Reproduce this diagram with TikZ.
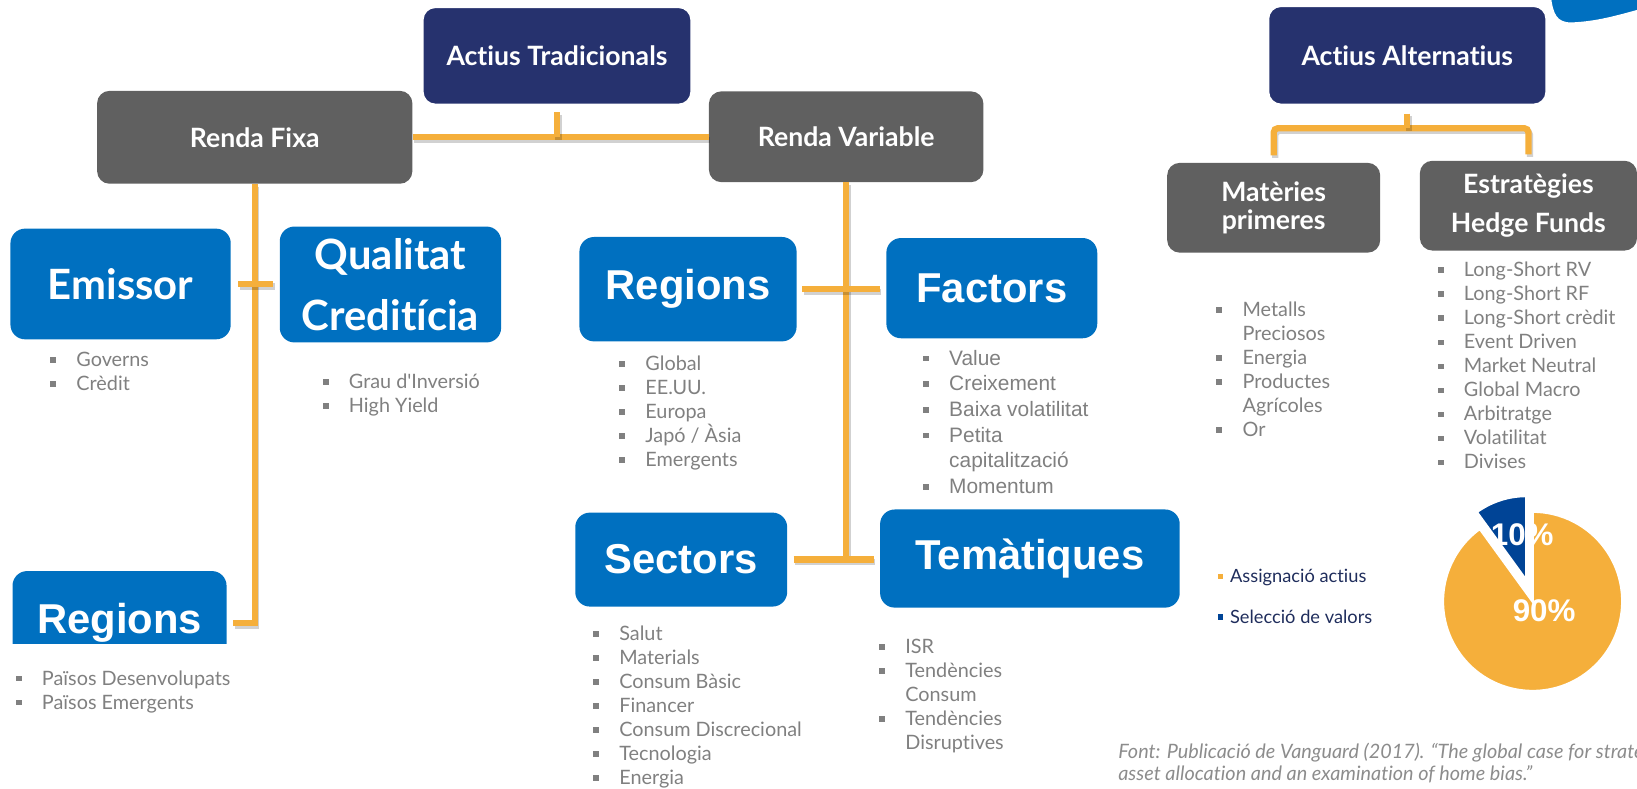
\documentclass[tikz,border=0pt]{standalone}
\usepackage{fontspec}
\setmainfont{Lato}[Ligatures={TeX,NoCommon}]
\newfontfamily\arialfont{Liberation Sans}
\definecolor{navyfill}{RGB}{38,50,110}
\definecolor{grayfill}{RGB}{96,96,96}
\definecolor{bluefill}{RGB}{0,112,192}
\definecolor{linkorange}{RGB}{245,175,59}
\definecolor{pienavy}{RGB}{0,68,150}
\definecolor{listgray}{RGB}{128,128,128}
\definecolor{legendnavy}{RGB}{31,45,92}
\definecolor{footgray}{RGB}{140,140,140}
\begin{document}
\begin{tikzpicture}[x=1pt,y=-1pt,
	mybox/.style={rounded corners=12pt, inner sep=0pt, text=white, align=center},
	navybox/.style={mybox, fill=navyfill, draw=white, line width=1.5pt},
	graybox/.style={mybox, fill=grayfill},
	bluebox/.style={mybox, fill=bluefill, rounded corners=14pt},
	conn/.style={draw=linkorange, line width=6pt, preaction={draw=black, opacity=0.18, line width=6pt, transform canvas={shift={(1.5pt,-2.5pt)}}}},
	bullets/.style={anchor=north west, inner sep=0pt, align=left, text=listgray}]
		\newcommand{\myfonthead}{\bfseries\fontsize{25.5}{27}\selectfont}
		\newcommand{\myfonthedge}{\bfseries\fontsize{25.5}{38}\selectfont}
		\newcommand{\myfontbig}{\bfseries\fontsize{40}{58}\selectfont}
		\newcommand{\myfontarial}{\arialfont\bfseries\fontsize{40}{46}\selectfont}
		\newcommand{\myfontlist}{\fontsize{19}{23}\selectfont}
		\newcommand{\myfontlistarial}{\arialfont\fontsize{20}{24.6}\selectfont}
		\newcommand{\myfontlegend}{\fontsize{17.5}{21}\selectfont}
		\newcommand{\myfontfoot}{\itshape\fontsize{19}{21}\selectfont}
		\newcommand{\myfontpie}{\arialfont\bfseries\fontsize{30}{34}\selectfont}
		\newcommand{\mybullet}{\makebox[25pt][l]{\rule[3.5pt]{5.5pt}{5.5pt}}}
		\newcommand{\myindent}{\hspace*{25pt}}
		\useasboundingbox (0,0) rectangle (1568,755);
		%Blue corner at the top right
		\fill[bluefill, draw=white, line width=3pt] (1484,-4) .. controls (1486,14) and (1490,23) .. (1505,23) .. controls (1530,22) and (1550,16) .. (1572,10) -- (1572,-4) -- cycle;
		%Top level boxes
		\node[navybox, minimum width=257pt, minimum height=93pt, font=\myfonthead] (trad) at (533.5,53.5) {Actius Tradicionals};
		\node[navybox, minimum width=266pt, minimum height=94pt, font=\myfonthead] (alt) at (1348,53) {Actius Alternatius};
		\node[graybox, minimum width=302pt, minimum height=89pt, font=\myfonthead] (rf) at (244,131.5) {Renda Fixa};
		\node[graybox, minimum width=263pt, minimum height=87pt, font=\myfonthead] (rv) at (810.5,131) {Renda Variable};
		\node[graybox, minimum width=204pt, minimum height=86pt, font=\myfonthead] (mat) at (1220,199) {Matèries\\primeres};
		\node[graybox, minimum width=208pt, minimum height=86pt, font=\myfonthedge] (hedge) at (1464,197) {Estratègies\\Hedge Funds};
		%Renda fixa
		\node[bluebox, minimum width=211pt, minimum height=106pt, font=\myfontbig] (emi) at (115.5,272) {Emissor};
		\node[bluebox, minimum width=212pt, minimum height=111pt, font=\myfontbig] (qual) at (374,272.5) {Qualitat\\Creditícia};
		\begin{scope}
			\clip (0,0) rectangle (300,616);
			\node[bluebox, minimum width=205pt, minimum height=100pt, font=\myfontarial] (regfix) at (114.5,597) {Regions};
		\end{scope}
		\node[bullets, font=\myfontlist] (emilist) at (48,337) {\mybullet Governs\\\mybullet Crèdit};
		\node[bullets, font=\myfontlist] (quallist) at (309,358) {\mybullet Grau d\textquotesingle Inversió\\\mybullet High Yield};
		\node[bullets, font=\myfontlist] (regfixlist) at (15,642) {\mybullet Països Desenvolupats\\\mybullet Països Emergents};
		%Renda variable
		\node[bluebox, minimum width=208pt, minimum height=100pt, font=\myfontarial] (regvar) at (659,277) {Regions};
		\node[bluebox, minimum width=202pt, minimum height=96pt, font=\myfontarial] (fact) at (950,276) {Factors};
		\node[bluebox, minimum width=203pt, minimum height=90pt, font=\myfontarial] (sect) at (652.5,536) {Sectors};
		\node[bluebox, minimum width=287pt, minimum height=94pt, font=\myfontarial] (tema) at (986.5,535) {Temàtiques};
		\node[bullets, font=\myfontlist] (regvarlist) at (593,341) {\mybullet Global\\\mybullet EE.UU.\\\mybullet Europa\\\mybullet Japó / Àsia\\\mybullet Emergents};
		\node[bullets, font=\myfontlistarial] (factlist) at (884,335) {\mybullet Value\\\mybullet Creixement\\\mybullet Baixa volatilitat\\\mybullet Petita\\\myindent capitalització\\\mybullet Momentum};
		\node[bullets, font=\myfontlist] (sectlist) at (568,599) {\mybullet Salut\\\mybullet Materials\\\mybullet Consum Bàsic\\\mybullet Financer\\\mybullet Consum Discrecional\\\mybullet Tecnologia\\\mybullet Energia};
		\node[bullets, font=\myfontlist] (temalist) at (842,612) {\mybullet ISR\\\mybullet Tendències\\\myindent Consum\\\mybullet Tendències\\\myindent Disruptives};
		%Actius alternatius
		\node[bullets, font=\myfontlist] (matlist) at (1165,289) {\mybullet Metalls\\\myindent Preciosos\\\mybullet Energia\\\mybullet Productes\\\myindent Agrícoles\\\mybullet Or};
		\node[bullets, font=\myfontlist] (hedgelist) at (1377,251) {\mybullet Long-Short RV\\\mybullet Long-Short RF\\\mybullet Long-Short crèdit\\\mybullet Event Driven\\\mybullet Market Neutral\\\mybullet Global Macro\\\mybullet Arbitratge\\\mybullet Volatilitat\\\mybullet Divises};
		%Connectors
		\draw[conn] (rf.east) -- (rf.east -| rv.west);
		\draw[conn] ([yshift=-7pt]trad.south) -- (trad.south |- rf.east);
		\draw[conn] (rf.south) -- (rf.south |- regfix.east) -- ([xshift=6pt]regfix.east);
		\draw[conn] ([xshift=7pt]emi.east) -- ([xshift=-6pt]emi.east -| qual.west);
		\draw[conn] (rv.south) -- (rv.south |- sect.east);
		\draw[conn] ([xshift=6pt]sect.east) -- ([xshift=-6pt]sect.east -| tema.west);
		\draw[conn] ([xshift=5pt]regvar.east) -- ([xshift=-6pt]regvar.east -| fact.west);
		\coordinate (altbar) at ([yshift=31pt]hedge.north);
		\draw[conn, rounded corners=4pt] ([yshift=7pt]mat.north) |- (altbar) -- ([yshift=6pt]hedge.north);
		\draw[conn] ([yshift=-8pt]alt.south) -- (alt.south |- altbar);
		%Legend
		\node[anchor=base west, inner sep=0pt, font=\myfontlegend, text=legendnavy] (leg1) at (1166,558) {\textcolor{linkorange}{\rule[3.5pt]{5pt}{5pt}}\hspace{7pt}Assignació actius};
		\node[anchor=base west, inner sep=0pt, font=\myfontlegend, text=legendnavy] (leg2) at (1166,597) {\textcolor{pienavy}{\rule[3.5pt]{5pt}{5pt}}\hspace{7pt}Selecció de valors};
		%Pie chart
		\begin{scope}[shift={(1468,576)}, yscale=-1]
			\fill[linkorange, draw=white, line width=2.5pt] (0,0) -- (126:86) arc[start angle=126, end angle=450, radius=86] -- cycle;
			\fill[pienavy, draw=white, line width=2.5pt] (-6,20) -- ++(90:81) arc[start angle=90, end angle=126, radius=81] -- cycle;
		\end{scope}
		\node[font=\myfontpie, text=white] (pct10) at (1458,512) {10\%};
		\node[font=\myfontpie, text=white] (pct90) at (1479,585) {90\%};
		%Source
		\node[bullets, font=\myfontfoot, text=footgray] (foot) at (1071,712) {Font: Publicació de Vanguard (2017). “The global case for strate\\asset allocation and an examination of home bias.”};
\end{tikzpicture}
\end{document}
